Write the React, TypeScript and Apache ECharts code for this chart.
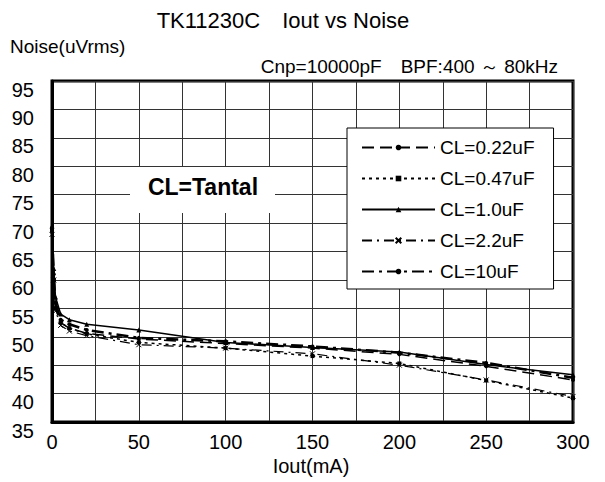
import React, { useEffect, useRef } from "react";
import * as echarts from "echarts";

const iout = [0, 1, 2, 5, 10, 20, 50, 100, 150, 200, 250, 300];
const cl022 = [68.5, 60, 55, 52.5, 51.5, 50.6, 49.6, 48.8, 48.0, 46.9, 44.8, 42.4];
const cl047 = [69, 60, 55, 52.5, 51.5, 50.5, 49.0, 48.0, 46.6, 45.3, 42.3, 39.2];
const cl10 = [69.5, 62, 57, 54, 53, 52.2, 51.2, 49.0, 48.1, 47.3, 45.1, 43.3];
const cl22 = [68, 60, 54.5, 52, 51, 50.2, 48.6, 48.0, 47.0, 45.0, 42.4, 39.5];
const cl100 = [69, 61, 56, 53, 52.2, 51.2, 49.8, 49.2, 48.3, 47.2, 45.4, 42.8];
const seriesNames = ["CL=0.22uF", "CL=0.47uF", "CL=1.0uF", "CL=2.2uF", "CL=10uF"];

const FONT = "'Liberation Sans', Arial, sans-serif";

export default function App() {
  const ref = useRef<HTMLDivElement>(null);
  useEffect(() => {
    if (!ref.current) return;
    const chart = echarts.init(ref.current, undefined, { renderer: "svg" });
    const pairs = (ys: number[]) => iout.map((x, i) => [x, ys[i]]);
    const mk = (
      name: string,
      ys: number[],
      type: any,
      width: number,
      symbol: string,
      size: number
    ) => ({
      name,
      type: "line",
      data: pairs(ys),
      symbol,
      symbolSize: size,
      showSymbol: true,
      lineStyle: { color: "#000", width, type },
      itemStyle: { color: "#000", borderColor: "#000", borderWidth: symbol.startsWith("path") ? 1 : 0 },
      z: 3,
    });
    chart.setOption({
      animation: false,
      textStyle: { fontFamily: FONT },
      grid: {
        left: 52,
        right: 32,
        top: 81,
        bottom: 60,
        show: true,
        borderColor: "#000",
        borderWidth: 3,
      },
      xAxis: {
        type: "value",
        min: 0,
        max: 300,
        interval: 25,
        axisLine: { show: true, lineStyle: { color: "#000", width: 3 } },
        axisTick: { show: false },
        splitLine: { show: true, lineStyle: { color: "#333", width: 1 } },
        axisLabel: {
          color: "#000",
          fontSize: 20,
          fontFamily: FONT,
          margin: 10,
          formatter: (v: number) => (v % 50 === 0 ? String(v) : ""),
        },
      },
      yAxis: {
        type: "value",
        min: 35,
        max: 95,
        interval: 5,
        axisLine: { show: true, lineStyle: { color: "#000", width: 3 } },
        axisTick: { show: false },
        splitLine: { show: true, lineStyle: { color: "#333", width: 1 } },
        axisLabel: {
          color: "#000",
          fontSize: 20,
          fontFamily: FONT,
          margin: 18,
          verticalAlign: "top",
          lineHeight: 17,
        },
      },
      legend: {
        data: seriesNames,
        orient: "vertical",
        left: 347,
        top: 128,
        itemWidth: 73,
        itemHeight: 7,
        itemGap: 12,
        padding: [10, 19, 8, 14],
        backgroundColor: "#fff",
        borderColor: "#000",
        borderWidth: 1,
        textStyle: { color: "#000", fontSize: 19, fontFamily: FONT },
        z: 20,
      },
      graphic: [
        {
          type: "rect",
          shape: { x: 130, y: 167, width: 145, height: 46 },
          style: { fill: "#fff" },
          z: 100,
        },
        {
          type: "text",
          x: 203,
          y: 187,
          z: 101,
          style: {
            text: "CL=Tantal",
            font: `bold 23px ${FONT}`,
            fill: "#000",
            align: "center",
            verticalAlign: "middle",
          },
        },
        {
          type: "text",
          x: 283,
          y: 20,
          style: {
            text: "TK11230C\u3000Iout vs Noise",
            font: `22px ${FONT}`,
            fill: "#000",
            align: "center",
            verticalAlign: "middle",
          },
        },
        {
          type: "text",
          x: 10,
          y: 46,
          style: {
            text: "Noise(uVrms)",
            font: `19px ${FONT}`,
            fill: "#000",
            align: "left",
            verticalAlign: "middle",
          },
        },
        {
          type: "text",
          x: 558,
          y: 66,
          style: {
            text: "Cnp=10000pF\u3000BPF:400 \uFF5E 80kHz",
            font: `19px ${FONT}`,
            fill: "#000",
            align: "right",
            verticalAlign: "middle",
          },
        },
        {
          type: "text",
          x: 311,
          y: 466,
          style: {
            text: "Iout(mA)",
            font: `20px ${FONT}`,
            fill: "#000",
            align: "center",
            verticalAlign: "middle",
          },
        },
      ],
      series: [
        mk(seriesNames[0], cl022, [12, 6], 1.5, "circle", 4),
        mk(seriesNames[1], cl047, [3, 4], 1.5, "rect", 4),
        mk(seriesNames[2], cl10, "solid", 1.5, "triangle", 5),
        mk(seriesNames[3], cl22, [10, 5, 2, 5], 1.2, "path://M0,0L10,10M10,0L0,10", 5),
        mk(seriesNames[4], cl100, [12, 5, 3, 5], 2.5, "circle", 4),
      ],
    });
    return () => chart.dispose();
  }, []);
  return (
    <div
      ref={ref}
      style={{ position: "fixed", left: 0, top: 0, width: 605, height: 482, background: "#fff" }}
    />
  );
}
